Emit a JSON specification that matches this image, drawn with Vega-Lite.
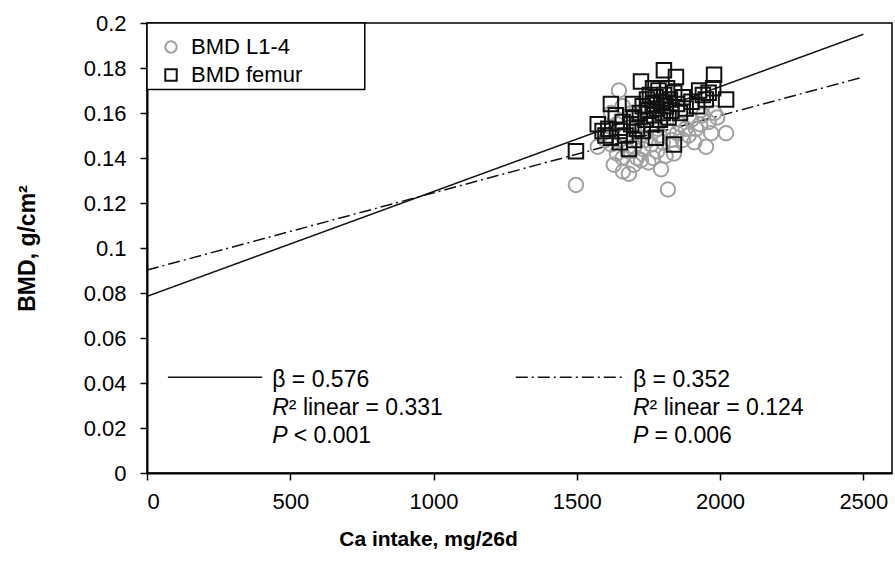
{
  "$schema": "https://vega.github.io/schema/vega-lite/v6.json",
  "width": 745,
  "height": 450,
  "autosize": {"type": "none"},
  "padding": {"left": 147, "top": 23, "right": 33, "bottom": 93},
  "background": "white",
  "config": {
    "font": "Liberation Sans",
    "view": {"stroke": "#000", "strokeWidth": 1.5},
    "axis": {"grid": false, "domainColor": "#000", "domainWidth": 2, "tickColor": "#000", "tickWidth": 1.5, "tickSize": 7, "labelFont": "Liberation Sans", "labelFontSize": 22, "labelColor": "#000", "titleFont": "Liberation Sans", "titleFontSize": 21, "titleFontWeight": "bold", "titleColor": "#000"}
  },
  "layer": [
    {
      "data": {"values": [{"x0": 0, "x1": 760, "y0": 0.1705, "y1": 0.2}]},
      "mark": {"type": "rect", "fill": "white", "stroke": "#000", "strokeWidth": 1.5},
      "encoding": {
        "x": {"field": "x0", "type": "quantitative", "scale": {"domain": [0, 2500]}},
        "x2": {"field": "x1"},
        "y": {"field": "y0", "type": "quantitative", "scale": {"domain": [0, 0.2]}},
        "y2": {"field": "y1"}
      }
    },
    {
      "data": {"values": [
        {"x": 0, "y": 0.0785, "line": "fit femur", "series": "femur"},
        {"x": 2500, "y": 0.195, "line": "fit femur", "series": "femur"},
        {"x": 0, "y": 0.0902, "line": "fit L1-4", "series": "L1-4"},
        {"x": 2500, "y": 0.176, "line": "fit L1-4", "series": "L1-4"},
        {"x": 73, "y": 0.0426, "line": "key femur", "series": "femur"},
        {"x": 402, "y": 0.0426, "line": "key femur", "series": "femur"},
        {"x": 1287, "y": 0.0426, "line": "key L1-4", "series": "L1-4"},
        {"x": 1671, "y": 0.0426, "line": "key L1-4", "series": "L1-4"}
      ]},
      "mark": {"type": "line", "color": "#111", "strokeWidth": 1.5},
      "encoding": {
        "x": {"field": "x", "type": "quantitative"},
        "y": {"field": "y", "type": "quantitative"},
        "detail": {"field": "line"},
        "strokeDash": {"field": "series", "type": "nominal", "scale": {"domain": ["femur", "L1-4"], "range": [[1, 0], [12, 4, 2, 4]]}, "legend": null}
      }
    },
    {
      "data": {"values": [
        {"ca": 1497, "bmd": 0.128, "s": "BMD L1-4"},
        {"ca": 1647, "bmd": 0.170, "s": "BMD L1-4"},
        {"ca": 1818, "bmd": 0.126, "s": "BMD L1-4"},
        {"ca": 1794, "bmd": 0.135, "s": "BMD L1-4"},
        {"ca": 1766, "bmd": 0.140, "s": "BMD L1-4"},
        {"ca": 1839, "bmd": 0.142, "s": "BMD L1-4"},
        {"ca": 1916, "bmd": 0.153, "s": "BMD L1-4"},
        {"ca": 1969, "bmd": 0.151, "s": "BMD L1-4"},
        {"ca": 2021, "bmd": 0.151, "s": "BMD L1-4"},
        {"ca": 1951, "bmd": 0.145, "s": "BMD L1-4"},
        {"ca": 1629, "bmd": 0.137, "s": "BMD L1-4"},
        {"ca": 1661, "bmd": 0.134, "s": "BMD L1-4"},
        {"ca": 1682, "bmd": 0.133, "s": "BMD L1-4"},
        {"ca": 1699, "bmd": 0.137, "s": "BMD L1-4"},
        {"ca": 1724, "bmd": 0.139, "s": "BMD L1-4"},
        {"ca": 1573, "bmd": 0.145, "s": "BMD L1-4"},
        {"ca": 1600, "bmd": 0.148, "s": "BMD L1-4"},
        {"ca": 1620, "bmd": 0.146, "s": "BMD L1-4"},
        {"ca": 1640, "bmd": 0.142, "s": "BMD L1-4"},
        {"ca": 1660, "bmd": 0.140, "s": "BMD L1-4"},
        {"ca": 1680, "bmd": 0.143, "s": "BMD L1-4"},
        {"ca": 1700, "bmd": 0.145, "s": "BMD L1-4"},
        {"ca": 1710, "bmd": 0.140, "s": "BMD L1-4"},
        {"ca": 1730, "bmd": 0.144, "s": "BMD L1-4"},
        {"ca": 1740, "bmd": 0.148, "s": "BMD L1-4"},
        {"ca": 1750, "bmd": 0.138, "s": "BMD L1-4"},
        {"ca": 1760, "bmd": 0.146, "s": "BMD L1-4"},
        {"ca": 1780, "bmd": 0.143, "s": "BMD L1-4"},
        {"ca": 1790, "bmd": 0.150, "s": "BMD L1-4"},
        {"ca": 1800, "bmd": 0.147, "s": "BMD L1-4"},
        {"ca": 1810, "bmd": 0.141, "s": "BMD L1-4"},
        {"ca": 1820, "bmd": 0.152, "s": "BMD L1-4"},
        {"ca": 1830, "bmd": 0.148, "s": "BMD L1-4"},
        {"ca": 1850, "bmd": 0.151, "s": "BMD L1-4"},
        {"ca": 1860, "bmd": 0.155, "s": "BMD L1-4"},
        {"ca": 1870, "bmd": 0.148, "s": "BMD L1-4"},
        {"ca": 1880, "bmd": 0.153, "s": "BMD L1-4"},
        {"ca": 1890, "bmd": 0.150, "s": "BMD L1-4"},
        {"ca": 1900, "bmd": 0.157, "s": "BMD L1-4"},
        {"ca": 1910, "bmd": 0.147, "s": "BMD L1-4"},
        {"ca": 1930, "bmd": 0.155, "s": "BMD L1-4"},
        {"ca": 1940, "bmd": 0.159, "s": "BMD L1-4"},
        {"ca": 1960, "bmd": 0.156, "s": "BMD L1-4"},
        {"ca": 1980, "bmd": 0.160, "s": "BMD L1-4"},
        {"ca": 1990, "bmd": 0.158, "s": "BMD L1-4"},
        {"ca": 1720, "bmd": 0.155, "s": "BMD L1-4"},
        {"ca": 1750, "bmd": 0.157, "s": "BMD L1-4"},
        {"ca": 1780, "bmd": 0.153, "s": "BMD L1-4"},
        {"ca": 1700, "bmd": 0.152, "s": "BMD L1-4"},
        {"ca": 1670, "bmd": 0.150, "s": "BMD L1-4"},
        {"ca": 1690, "bmd": 0.160, "s": "BMD L1-4"},
        {"ca": 1740, "bmd": 0.162, "s": "BMD L1-4"},
        {"ca": 1660, "bmd": 0.163, "s": "BMD L1-4"},
        {"ca": 1640, "bmd": 0.155, "s": "BMD L1-4"},
        {"ca": 1620, "bmd": 0.160, "s": "BMD L1-4"},
        {"ca": 1497, "bmd": 0.143, "s": "BMD femur"},
        {"ca": 1573, "bmd": 0.155, "s": "BMD femur"},
        {"ca": 1619, "bmd": 0.164, "s": "BMD femur"},
        {"ca": 1619, "bmd": 0.149, "s": "BMD femur"},
        {"ca": 1636, "bmd": 0.159, "s": "BMD femur"},
        {"ca": 1682, "bmd": 0.144, "s": "BMD femur"},
        {"ca": 1696, "bmd": 0.164, "s": "BMD femur"},
        {"ca": 1724, "bmd": 0.174, "s": "BMD femur"},
        {"ca": 1804, "bmd": 0.179, "s": "BMD femur"},
        {"ca": 1846, "bmd": 0.176, "s": "BMD femur"},
        {"ca": 1979, "bmd": 0.177, "s": "BMD femur"},
        {"ca": 2021, "bmd": 0.166, "s": "BMD femur"},
        {"ca": 1927, "bmd": 0.170, "s": "BMD femur"},
        {"ca": 1976, "bmd": 0.171, "s": "BMD femur"},
        {"ca": 1766, "bmd": 0.171, "s": "BMD femur"},
        {"ca": 1839, "bmd": 0.146, "s": "BMD femur"},
        {"ca": 1776, "bmd": 0.149, "s": "BMD femur"},
        {"ca": 1600, "bmd": 0.150, "s": "BMD femur"},
        {"ca": 1610, "bmd": 0.153, "s": "BMD femur"},
        {"ca": 1650, "bmd": 0.152, "s": "BMD femur"},
        {"ca": 1660, "bmd": 0.156, "s": "BMD femur"},
        {"ca": 1670, "bmd": 0.150, "s": "BMD femur"},
        {"ca": 1690, "bmd": 0.155, "s": "BMD femur"},
        {"ca": 1700, "bmd": 0.158, "s": "BMD femur"},
        {"ca": 1710, "bmd": 0.153, "s": "BMD femur"},
        {"ca": 1720, "bmd": 0.160, "s": "BMD femur"},
        {"ca": 1730, "bmd": 0.163, "s": "BMD femur"},
        {"ca": 1740, "bmd": 0.157, "s": "BMD femur"},
        {"ca": 1745, "bmd": 0.166, "s": "BMD femur"},
        {"ca": 1750, "bmd": 0.161, "s": "BMD femur"},
        {"ca": 1755, "bmd": 0.168, "s": "BMD femur"},
        {"ca": 1760, "bmd": 0.155, "s": "BMD femur"},
        {"ca": 1765, "bmd": 0.164, "s": "BMD femur"},
        {"ca": 1770, "bmd": 0.159, "s": "BMD femur"},
        {"ca": 1775, "bmd": 0.167, "s": "BMD femur"},
        {"ca": 1780, "bmd": 0.162, "s": "BMD femur"},
        {"ca": 1785, "bmd": 0.170, "s": "BMD femur"},
        {"ca": 1790, "bmd": 0.157, "s": "BMD femur"},
        {"ca": 1795, "bmd": 0.165, "s": "BMD femur"},
        {"ca": 1800, "bmd": 0.160, "s": "BMD femur"},
        {"ca": 1805, "bmd": 0.168, "s": "BMD femur"},
        {"ca": 1810, "bmd": 0.163, "s": "BMD femur"},
        {"ca": 1815, "bmd": 0.171, "s": "BMD femur"},
        {"ca": 1820, "bmd": 0.158, "s": "BMD femur"},
        {"ca": 1825, "bmd": 0.166, "s": "BMD femur"},
        {"ca": 1830, "bmd": 0.161, "s": "BMD femur"},
        {"ca": 1840, "bmd": 0.169, "s": "BMD femur"},
        {"ca": 1850, "bmd": 0.164, "s": "BMD femur"},
        {"ca": 1860, "bmd": 0.160, "s": "BMD femur"},
        {"ca": 1870, "bmd": 0.167, "s": "BMD femur"},
        {"ca": 1880, "bmd": 0.162, "s": "BMD femur"},
        {"ca": 1900, "bmd": 0.165, "s": "BMD femur"},
        {"ca": 1920, "bmd": 0.163, "s": "BMD femur"},
        {"ca": 1940, "bmd": 0.168, "s": "BMD femur"},
        {"ca": 1950, "bmd": 0.166, "s": "BMD femur"},
        {"ca": 1960, "bmd": 0.169, "s": "BMD femur"},
        {"ca": 1700, "bmd": 0.148, "s": "BMD femur"},
        {"ca": 1730, "bmd": 0.152, "s": "BMD femur"},
        {"ca": 1650, "bmd": 0.147, "s": "BMD femur"},
        {"ca": 1590, "bmd": 0.152, "s": "BMD femur"}
      ]},
      "mark": {"type": "point", "filled": false, "strokeWidth": 2, "opacity": 1, "size": 210},
      "encoding": {
        "x": {"field": "ca", "type": "quantitative", "title": "Ca intake, mg/26d",
          "axis": {"values": [0, 500, 1000, 1500, 2000, 2500], "format": "d", "labelPadding": 11, "titlePadding": 16, "titleX": 281}},
        "y": {"field": "bmd", "type": "quantitative", "title": "BMD, g/cm²",
          "axis": {"values": [0, 0.02, 0.04, 0.06, 0.08, 0.1, 0.12, 0.14, 0.16, 0.18, 0.2], "format": "~g", "labelPadding": 14, "titlePadding": 44, "titleFontSize": 23}},
        "shape": {"field": "s", "type": "nominal", "scale": {"domain": ["BMD L1-4", "BMD femur"], "range": ["circle", "square"]}, "title": null},
        "color": {"field": "s", "type": "nominal", "scale": {"domain": ["BMD L1-4", "BMD femur"], "range": ["#a0a0a0", "#111111"]}, "title": null,
          "legend": {"orient": "top-left", "offset": 13, "padding": 0, "symbolSize": 130, "symbolStrokeWidth": 2, "labelFontSize": 22, "labelColor": "#000", "labelOffset": 9, "rowPadding": 6, "fillColor": null, "strokeColor": null,
            "encode": {"symbols": {"update": {"size": {"value": 130}}}}}}
      }
    },
    {
      "data": {"values": [
        {"x": 437, "y": 0.0412, "t": "β = 0.576"},
        {"x": 495, "y": 0.0288, "t": "² linear = 0.331"},
        {"x": 512, "y": 0.0164, "t": "< 0.001"},
        {"x": 1696, "y": 0.0412, "t": "β = 0.352"},
        {"x": 1754, "y": 0.0288, "t": "² linear = 0.124"},
        {"x": 1771, "y": 0.0164, "t": "= 0.006"}
      ]},
      "mark": {"type": "text", "align": "left", "baseline": "middle", "fontSize": 23, "color": "#000"},
      "encoding": {
        "x": {"field": "x", "type": "quantitative"},
        "y": {"field": "y", "type": "quantitative"},
        "text": {"field": "t"}
      }
    },
    {
      "data": {"values": [
        {"x": 437, "y": 0.0288, "t": "R"},
        {"x": 437, "y": 0.0164, "t": "P"},
        {"x": 1696, "y": 0.0288, "t": "R"},
        {"x": 1696, "y": 0.0164, "t": "P"}
      ]},
      "mark": {"type": "text", "align": "left", "baseline": "middle", "fontSize": 23, "fontStyle": "italic", "color": "#000"},
      "encoding": {
        "x": {"field": "x", "type": "quantitative"},
        "y": {"field": "y", "type": "quantitative"},
        "text": {"field": "t"}
      }
    }
  ]
}
